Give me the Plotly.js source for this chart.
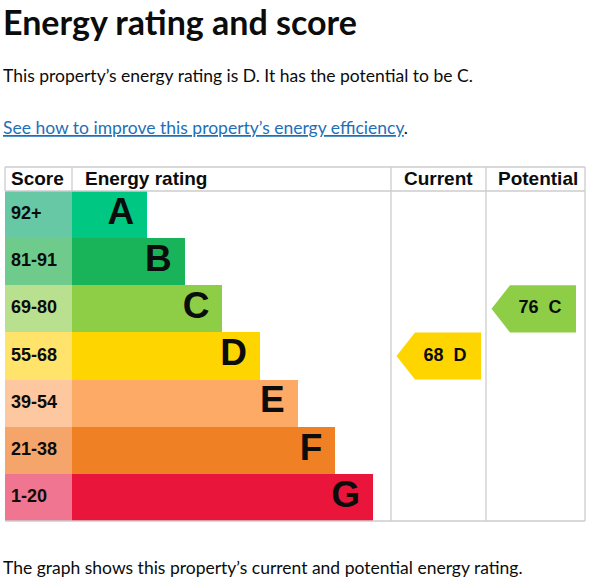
<!DOCTYPE html>
<html><head><meta charset="utf-8">
<script src="https://cdn.plot.ly/plotly-3.0.1.min.js"></script>
<style>html,body{margin:0;padding:0;background:#fff}#chart{width:593px;height:584px}</style>
</head><body><div id="chart"></div>
<script>
// ---- data ----
const bands = ['A', 'B', 'C', 'D', 'E', 'F', 'G'];
const scoreRanges = ['92+', '81-91', '69-80', '55-68', '39-54', '21-38', '1-20'];
const barLength = [2, 3, 4, 5, 6, 7, 8];
const barColors = ['#00c781', '#19b459', '#8dce46', '#ffd500', '#fcaa65', '#ef8023', '#e9153b'];
const scoreColors = ['#66c8a4', '#6fcb8c', '#b9e08e', '#ffe36a', '#fdc7a0', '#f5a56a', '#ef7590'];
const columnHeaders = ['Score', 'Energy rating', 'Current', 'Potential'];
const currentScore = 68;
const currentBand = 'D';
const potentialScore = 76;
const potentialBand = 'C';

// ---- layout helpers ----
const W = 593, H = 584;
const px = x => x / W;
const py = y => 1 - y / H;
const colX = [5, 72, 391, 486, 585];
const tableTop = 167, headerBottom = 191, tableBottom = 521;
const BODY = 'Lato, "Noto Sans", sans-serif';
const ARIAL = '"Liberation Sans", Arial, sans-serif';
const rows = bands.map((b, i) => i);

const traces = [];
// score cells
traces.push({
  type: 'bar', orientation: 'h', y: rows, x: bands.map(() => 1), base: 0, width: 1,
  marker: {color: scoreColors, line: {width: 0}}, xaxis: 'x', yaxis: 'y', hoverinfo: 'skip'
});
traces.push({
  type: 'scatter', mode: 'text', y: rows, x: bands.map(() => 6), text: scoreRanges,
  textposition: 'middle right', textfont: {family: ARIAL, size: 18, color: '#0b0c0c', weight: 'bold'},
  xaxis: 'x5', yaxis: 'y', hoverinfo: 'skip'
});
// rating bars
traces.push({
  type: 'bar', orientation: 'h', y: rows, x: barLength, base: 0, width: 1,
  marker: {color: barColors, line: {width: 0}}, xaxis: 'x2', yaxis: 'y', hoverinfo: 'skip'
});
const unitPx = 319 / 8.48;
traces.push({
  type: 'scatter', mode: 'text', y: rows, x: barLength.map(v => v - 13 / unitPx), text: bands,
  textposition: 'middle left', textfont: {family: ARIAL, size: 37, color: '#0b0c0c', weight: 'bold'},
  xaxis: 'x2', yaxis: 'y', hoverinfo: 'skip'
});
// arrows
function arrow(score, band, xa) {
  const i = bands.indexOf(band);
  const tip = 5.5, body = 24, right = 90;
  traces.push({
    type: 'scatter', mode: 'lines', fill: 'toself', fillcolor: barColors[i],
    line: {width: 0, color: barColors[i]},
    x: [right, body, tip, body, right, right],
    y: [i - 0.5, i - 0.5, i, i + 0.5, i + 0.5, i - 0.5],
    xaxis: xa, yaxis: 'y', hoverinfo: 'skip'
  });
  traces.push({
    type: 'scatter', mode: 'text', x: [54], y: [i], text: [score + '\u00a0 ' + band],
    textposition: 'middle center', textfont: {family: ARIAL, size: 18, color: '#0b0c0c', weight: 'bold'},
    xaxis: xa, yaxis: 'y', hoverinfo: 'skip'
  });
}
arrow(currentScore, currentBand, 'x3');
arrow(potentialScore, potentialBand, 'x4');

const hidden = {showgrid: false, zeroline: false, showticklabels: false, showline: false, ticks: '', fixedrange: true};
const layout = {
  width: W, height: H, margin: {l: 0, r: 0, t: 0, b: 0},
  paper_bgcolor: '#fff', plot_bgcolor: 'rgba(0,0,0,0)', showlegend: false, bargap: 0,
  yaxis: Object.assign({domain: [py(tableBottom), py(headerBottom)], range: [6.5, -0.5]}, hidden),
  xaxis: Object.assign({domain: [px(colX[0]), px(colX[1])], range: [0, 1], anchor: 'y'}, hidden),
  xaxis5: Object.assign({domain: [px(colX[0]), px(colX[1])], range: [0, colX[1] - colX[0]], anchor: 'y'}, hidden),
  xaxis2: Object.assign({domain: [px(colX[1]), px(colX[2])], range: [0, 8.48], anchor: 'y'}, hidden),
  xaxis3: Object.assign({domain: [px(colX[2]), px(colX[3])], range: [0, colX[3] - colX[2]], anchor: 'y'}, hidden),
  xaxis4: Object.assign({domain: [px(colX[3]), px(colX[4])], range: [0, colX[4] - colX[3]], anchor: 'y'}, hidden),
  shapes: [],
  annotations: []
};
const border = '#cccccc';
function line(x0, y0, x1, y1) {
  layout.shapes.push({type: 'line', xref: 'paper', yref: 'paper', x0: px(x0), y0: py(y0), x1: px(x1), y1: py(y1),
    line: {color: border, width: 1.3}, layer: 'above'});
}
line(colX[0], tableTop, colX[4], tableTop);
line(colX[0], headerBottom, colX[4], headerBottom);
line(colX[0], tableBottom, colX[4], tableBottom);
line(colX[0], tableTop, colX[0], headerBottom);
line(colX[1], tableTop, colX[1], headerBottom);
line(colX[2], tableTop, colX[2], tableBottom);
line(colX[3], tableTop, colX[3], tableBottom);
line(colX[4], tableTop, colX[4], tableBottom);

const headerLeft = [9, 83, 402, 496];
columnHeaders.forEach((h, k) => {
  layout.annotations.push({xref: 'paper', yref: 'paper', x: px(headerLeft[k]), y: py(179), xanchor: 'left', yanchor: 'middle',
    text: h, showarrow: false, font: {family: ARIAL, size: 19, color: '#0b0c0c', weight: 'bold'}});
});
function txt(t, x, y, size, weight, yanchor) {
  layout.annotations.push({xref: 'paper', yref: 'paper', x: px(x), y: py(y), xanchor: 'left', yanchor: yanchor || 'middle',
    borderpad: 0, text: t, showarrow: false, font: {family: BODY, size: size, color: '#0b0c0c', weight: weight || 'normal'}});
}
txt('Energy rating and score', 2, 0, 34, 'bold', 'top');
txt('This property\u2019s energy rating is D. It has the potential to be C.', 2, 76, 17.5);
txt('<span style="color:#1d70b8"><u>See how to improve this property\u2019s energy efficiency</u></span>.', 2, 127, 17.5);
txt('The graph shows this property\u2019s current and potential energy rating.', 2, 567, 17.5);

Plotly.newPlot('chart', traces, layout, {staticPlot: true, displayModeBar: false});
</script>
</body></html>
